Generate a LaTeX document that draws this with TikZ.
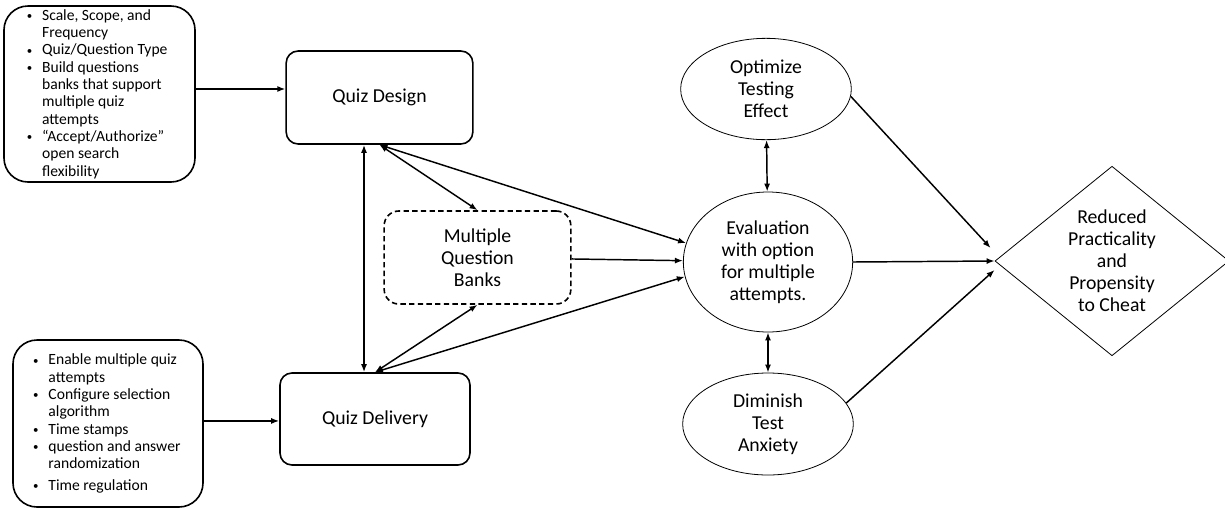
\documentclass[tikz,border=0pt]{standalone}
\usepackage{fontspec}
\setmainfont{Carlito}
\usepackage{xcolor}
\usepackage{tikz}
\usetikzlibrary{shapes.geometric, arrows.meta, positioning}

\newcommand{\mainsize}{\fontsize{14.8}{16.5}\selectfont}
\newcommand{\bul}{\makebox[11.5pt][l]{\raisebox{0.5pt}{\scalebox{0.7}{\textbullet}}}}
\newcommand{\cont}{\hspace*{11.5pt}}

\tikzset{
  notes/.style={draw, line width=1.2pt, rounded corners=18pt},
  notetext/.style={align=left, inner sep=0pt, font=\fontsize{11.7}{13}\selectfont},
  stage/.style={draw, line width=1.2pt, rounded corners=9pt, font=\mainsize,
    align=center, minimum width=140pt, minimum height=69.75pt},
  bank/.style={stage, dash pattern=on 4pt off 2.5pt, rounded corners=11pt},
  oval/.style={draw, ellipse, line width=0.6pt, align=center, font=\mainsize,
    inner sep=0pt, minimum width=128pt, minimum height=76pt},
  outcome/.style={draw, diamond, line width=0.6pt, align=center, font=\mainsize,
    inner sep=0pt, minimum width=175.5pt, minimum height=141pt},
  link/.style={line width=1.1pt}
}

\begin{document}
\begin{tikzpicture}[x=0.75pt, y=-0.75pt, >={Latex[length=6pt,width=4.5pt]}]
        \useasboundingbox (0,0) rectangle (1225,508);

        % left column
        \node[notes, minimum width=143.25pt, minimum height=132pt] (designnotes) at (99.5,94) {};
        \node[notetext, right=17.5pt of designnotes.west] (designlist)
            {\bul Scale, Scope, and\\ \cont Frequency\\ \bul Quiz/Question Type\\
             \bul Build questions\\ \cont banks that support\\ \cont multiple quiz\\
             \cont attempts\\ \bul “Accept/Authorize”\\ \cont open search\\ \cont flexibility};
        \node[notes, minimum width=142.5pt, minimum height=125.25pt] (deliverynotes) at (108,423.5) {};
        \node[notetext, right=15.5pt of deliverynotes.west] (deliverylist)
            {\bul Enable multiple quiz\\ \cont attempts\\ \bul Configure selection\\
             \cont algorithm\\ \bul Time stamps\\ \bul question and answer\\
             \cont randomization\\[3pt] \bul Time regulation};

        % middle
        \node[stage] (design) at (379.5,97.5) {Quiz Design};
        \node[stage, minimum width=142.5pt, minimum height=69pt] (delivery) at (375,419) {Quiz Delivery};
        \node[bank] (banks) at (477.5,257.5) {Multiple\\Question\\Banks};

        % right
        \node[oval] (optimize) at (766,89) {Optimize\\Testing\\Effect};
        \node[oval, minimum width=127pt, minimum height=105pt] (eval) at (768,262)
            {Evaluation\\with option\\for multiple\\attempts.};
        \node[oval, minimum height=76.5pt] (diminish) at (768,424) {Diminish\\Test\\Anxiety};
        \node[outcome] (result) at (1112,261)
            {Reduced\\Practicality\\and\\Propensity\\to Cheat};

        \coordinate (dn) at ([yshift=3.75pt]designnotes.east);
        \coordinate (ln) at ([yshift=1.9pt]deliverynotes.east);
        \coordinate (dv) at ([xshift=-8.25pt]delivery.north);

        \path[->, link]
        (dn) edge (dn -| design.west)
        (ln) edge (ln -| delivery.west)
        (banks) edge (eval)
        (eval.east) edge (result.west)
        (optimize.-5) edge ([xshift=-3pt,yshift=9.75pt]result.west)
        (diminish.15) edge ([yshift=-6.75pt]result.west);

        \path[<->, link]
        (dv) edge (dv |- design.south)
        (design.south) edge (banks.north)
                       edge (eval.167)
        (delivery.north) edge (banks.south)
                         edge (eval.190)
        (optimize) edge (eval)
        (eval) edge (diminish);

    \end{tikzpicture}
\end{document}
